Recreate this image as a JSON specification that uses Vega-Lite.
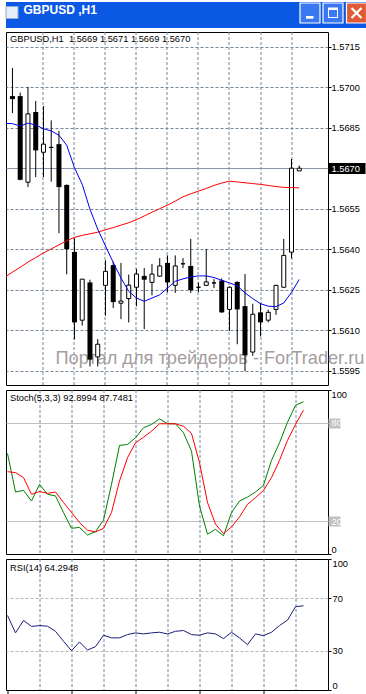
{
  "$schema": "https://vega.github.io/schema/vega-lite/v6.json",
  "padding": {"left": 4, "top": 0, "right": 0, "bottom": 0},
  "background": "white",
  "spacing": 3,
  "resolve": {"scale": {"x": "independent", "y": "independent"}},
  "config": {
    "font": "Liberation Sans",
    "view": {"stroke": "black", "strokeWidth": 1},
    "axis": {"labelFont": "Liberation Sans", "labelFontSize": 9.3, "labelColor": "black", "domain": false, "tickColor": "black", "gridColor": "#778899", "gridDash": [3, 2], "gridWidth": 1, "labelFlush": false, "labelOverlap": false, "labelBound": false},
    "title": {"font": "Liberation Sans", "fontSize": 9.3, "fontWeight": "normal", "color": "black", "anchor": "start", "frame": "group", "baseline": "alphabetic"}
  },
  "datasets": {
    "candles": [
      {"i": 0, "o": 1.56967, "h": 1.57071, "l": 1.56904, "c": 1.56956},
      {"i": 1, "o": 1.56967, "h": 1.56980, "l": 1.56655, "c": 1.56657},
      {"i": 2, "o": 1.56648, "h": 1.57001, "l": 1.56630, "c": 1.56901},
      {"i": 3, "o": 1.56908, "h": 1.56949, "l": 1.56667, "c": 1.56766},
      {"i": 4, "o": 1.56759, "h": 1.56930, "l": 1.56667, "c": 1.56789},
      {"i": 5, "o": 1.56777, "h": 1.56877, "l": 1.56650, "c": 1.56777},
      {"i": 6, "o": 1.56789, "h": 1.56838, "l": 1.56459, "c": 1.56630},
      {"i": 7, "o": 1.56638, "h": 1.56640, "l": 1.56307, "c": 1.56400},
      {"i": 8, "o": 1.56390, "h": 1.56441, "l": 1.56066, "c": 1.56129},
      {"i": 9, "o": 1.56137, "h": 1.56289, "l": 1.56117, "c": 1.56289},
      {"i": 10, "o": 1.56277, "h": 1.56287, "l": 1.55966, "c": 1.55991},
      {"i": 11, "o": 1.56001, "h": 1.56067, "l": 1.55966, "c": 1.56048},
      {"i": 12, "o": 1.56266, "h": 1.56359, "l": 1.56154, "c": 1.56318},
      {"i": 13, "o": 1.56341, "h": 1.56354, "l": 1.56182, "c": 1.56204},
      {"i": 14, "o": 1.56200, "h": 1.56349, "l": 1.56141, "c": 1.56208},
      {"i": 15, "o": 1.56217, "h": 1.56306, "l": 1.56129, "c": 1.56267},
      {"i": 16, "o": 1.56259, "h": 1.56327, "l": 1.56189, "c": 1.56308},
      {"i": 17, "o": 1.56301, "h": 1.56330, "l": 1.56104, "c": 1.56287},
      {"i": 18, "o": 1.56277, "h": 1.56345, "l": 1.56229, "c": 1.56308},
      {"i": 19, "o": 1.56300, "h": 1.56367, "l": 1.56298, "c": 1.56338},
      {"i": 20, "o": 1.56349, "h": 1.56377, "l": 1.56240, "c": 1.56277},
      {"i": 21, "o": 1.56266, "h": 1.56377, "l": 1.56238, "c": 1.56338},
      {"i": 22, "o": 1.56346, "h": 1.56367, "l": 1.56330, "c": 1.56346},
      {"i": 23, "o": 1.56338, "h": 1.56438, "l": 1.56238, "c": 1.56248},
      {"i": 24, "o": 1.56259, "h": 1.56277, "l": 1.56241, "c": 1.56259},
      {"i": 25, "o": 1.56266, "h": 1.56401, "l": 1.56264, "c": 1.56279},
      {"i": 26, "o": 1.56275, "h": 1.56289, "l": 1.56256, "c": 1.56275},
      {"i": 27, "o": 1.56284, "h": 1.56292, "l": 1.56164, "c": 1.56166},
      {"i": 28, "o": 1.56177, "h": 1.56262, "l": 1.56097, "c": 1.56259},
      {"i": 29, "o": 1.56279, "h": 1.56281, "l": 1.56048, "c": 1.56177},
      {"i": 30, "o": 1.56189, "h": 1.56308, "l": 1.55948, "c": 1.56007},
      {"i": 31, "o": 1.56019, "h": 1.56198, "l": 1.56005, "c": 1.56159},
      {"i": 32, "o": 1.56166, "h": 1.56201, "l": 1.56077, "c": 1.56129},
      {"i": 33, "o": 1.56137, "h": 1.56176, "l": 1.56129, "c": 1.56166},
      {"i": 34, "o": 1.56177, "h": 1.56268, "l": 1.56157, "c": 1.56266},
      {"i": 35, "o": 1.56259, "h": 1.56438, "l": 1.56257, "c": 1.56377},
      {"i": 36, "o": 1.56389, "h": 1.56734, "l": 1.56366, "c": 1.56700},
      {"i": 37, "o": 1.56690, "h": 1.56710, "l": 1.56690, "c": 1.56700}
    ],
    "ma": [
      {"i": -1, "fast": 1.56866, "slow": 1.56296},
      {"i": 0, "fast": 1.56865, "slow": 1.56315},
      {"i": 1, "fast": 1.56856, "slow": 1.56333},
      {"i": 2, "fast": 1.56867, "slow": 1.56352},
      {"i": 3, "fast": 1.56860, "slow": 1.56369},
      {"i": 4, "fast": 1.56846, "slow": 1.56386},
      {"i": 5, "fast": 1.56838, "slow": 1.56401},
      {"i": 6, "fast": 1.56822, "slow": 1.56416},
      {"i": 7, "fast": 1.56785, "slow": 1.56431},
      {"i": 8, "fast": 1.56702, "slow": 1.56444},
      {"i": 9, "fast": 1.56640, "slow": 1.56451},
      {"i": 10, "fast": 1.56548, "slow": 1.56457},
      {"i": 11, "fast": 1.56474, "slow": 1.56463},
      {"i": 12, "fast": 1.56412, "slow": 1.56472},
      {"i": 13, "fast": 1.56351, "slow": 1.56480},
      {"i": 14, "fast": 1.56293, "slow": 1.56489},
      {"i": 15, "fast": 1.56244, "slow": 1.56498},
      {"i": 16, "fast": 1.56219, "slow": 1.56509},
      {"i": 17, "fast": 1.56207, "slow": 1.56523},
      {"i": 18, "fast": 1.56219, "slow": 1.56537},
      {"i": 19, "fast": 1.56231, "slow": 1.56550},
      {"i": 20, "fast": 1.56256, "slow": 1.56563},
      {"i": 21, "fast": 1.56281, "slow": 1.56578},
      {"i": 22, "fast": 1.56290, "slow": 1.56594},
      {"i": 23, "fast": 1.56297, "slow": 1.56605},
      {"i": 24, "fast": 1.56301, "slow": 1.56615},
      {"i": 25, "fast": 1.56301, "slow": 1.56625},
      {"i": 26, "fast": 1.56295, "slow": 1.56636},
      {"i": 27, "fast": 1.56285, "slow": 1.56645},
      {"i": 28, "fast": 1.56275, "slow": 1.56652},
      {"i": 29, "fast": 1.56265, "slow": 1.56649},
      {"i": 30, "fast": 1.56238, "slow": 1.56646},
      {"i": 31, "fast": 1.56217, "slow": 1.56643},
      {"i": 32, "fast": 1.56198, "slow": 1.56640},
      {"i": 33, "fast": 1.56189, "slow": 1.56636},
      {"i": 34, "fast": 1.56187, "slow": 1.56632},
      {"i": 35, "fast": 1.56201, "slow": 1.56629},
      {"i": 36, "fast": 1.56240, "slow": 1.56628},
      {"i": 37, "fast": 1.56288, "slow": 1.56627}
    ],
    "stoch": [
      {"i": 0, "m": 61.3, "s": 50.2}, {"i": 1, "m": 37.8, "s": 49.6}, {"i": 2, "m": 38.8, "s": 46.6},
      {"i": 3, "m": 32.3, "s": 36.4}, {"i": 4, "m": 42.5, "s": 38.1}, {"i": 5, "m": 36.4, "s": 37.0},
      {"i": 6, "m": 35.4, "s": 37.8}, {"i": 7, "m": 25.3, "s": 31.4}, {"i": 8, "m": 15.7, "s": 25.3},
      {"i": 9, "m": 16.2, "s": 19.2}, {"i": 10, "m": 11.5, "s": 14.5}, {"i": 11, "m": 13.7, "s": 13.5},
      {"i": 12, "m": 20.6, "s": 15.6}, {"i": 13, "m": 42.5, "s": 25.3}, {"i": 14, "m": 66.2, "s": 44.5},
      {"i": 15, "m": 66.8, "s": 58.7}, {"i": 16, "m": 70.9, "s": 67.8}, {"i": 17, "m": 77.0, "s": 71.2},
      {"i": 18, "m": 79.0, "s": 74.9}, {"i": 19, "m": 82.4, "s": 79.4}, {"i": 20, "m": 79.4, "s": 79.4},
      {"i": 21, "m": 79.4, "s": 79.4}, {"i": 22, "m": 73.9, "s": 77.9}, {"i": 23, "m": 62.7, "s": 73.5},
      {"i": 24, "m": 29.3, "s": 55.7}, {"i": 25, "m": 12.1, "s": 31.4}, {"i": 26, "m": 15.0, "s": 18.2},
      {"i": 27, "m": 11.1, "s": 12.5}, {"i": 28, "m": 25.3, "s": 16.5}, {"i": 29, "m": 32.3, "s": 22.6},
      {"i": 30, "m": 34.7, "s": 30.3}, {"i": 31, "m": 37.8, "s": 34.4}, {"i": 32, "m": 41.9, "s": 38.8},
      {"i": 33, "m": 57.1, "s": 46.6}, {"i": 34, "m": 67.8, "s": 57.1}, {"i": 35, "m": 80.3, "s": 69.3},
      {"i": 36, "m": 90.7, "s": 79.0}, {"i": 37, "m": 92.9, "s": 87.7}
    ],
    "rsi": [
      {"i": 0, "r": 56.9}, {"i": 1, "r": 43.6}, {"i": 2, "r": 53.1}, {"i": 3, "r": 48.5},
      {"i": 4, "r": 49.2}, {"i": 5, "r": 48.7}, {"i": 6, "r": 44.8}, {"i": 7, "r": 37.2},
      {"i": 8, "r": 30.0}, {"i": 9, "r": 36.7}, {"i": 10, "r": 30.5}, {"i": 11, "r": 33.1},
      {"i": 12, "r": 41.8}, {"i": 13, "r": 39.8}, {"i": 14, "r": 39.8}, {"i": 15, "r": 42.3},
      {"i": 16, "r": 43.6}, {"i": 17, "r": 42.8}, {"i": 18, "r": 43.6}, {"i": 19, "r": 44.1},
      {"i": 20, "r": 42.8}, {"i": 21, "r": 44.8}, {"i": 22, "r": 45.4}, {"i": 23, "r": 42.3},
      {"i": 24, "r": 41.8}, {"i": 25, "r": 43.6}, {"i": 26, "r": 42.8}, {"i": 27, "r": 39.2},
      {"i": 28, "r": 44.1}, {"i": 29, "r": 39.8}, {"i": 30, "r": 34.6}, {"i": 31, "r": 42.8},
      {"i": 32, "r": 41.5}, {"i": 33, "r": 44.1}, {"i": 34, "r": 49.2}, {"i": 35, "r": 53.3},
      {"i": 36, "r": 63.6}, {"i": 37, "r": 64.3}
    ]
  },
  "vconcat": [
    {
      "width": 362, "height": 26,
      "view": {"fill": "#0a58e4", "stroke": null},
      "title": {"text": "GBPUSD ,H1", "offset": -16, "dx": 17.5, "color": "white", "fontSize": 12, "fontWeight": "bold"},
      "data": {"values": [{"k": 1}]},
      "layer": [
        {"mark": {"type": "point", "shape": "square", "size": 144, "filled": true, "fill": "#e8eef9", "stroke": "#8fa9d8", "strokeWidth": 1, "opacity": 1},
         "encoding": {"x": {"datum": 6, "type": "quantitative", "scale": {"domain": [0, 362], "nice": false, "zero": false}, "axis": null},
                      "y": {"datum": 10.5, "type": "quantitative", "scale": {"domain": [0, 26], "reverse": true, "nice": false, "zero": false}, "axis": null}}},
        {"mark": {"type": "point", "shape": "square", "size": 400, "filled": true, "fill": "#3a78f2", "stroke": "white", "strokeWidth": 1.2, "opacity": 1},
         "encoding": {"x": {"datum": 304, "type": "quantitative"}, "y": {"datum": 11, "type": "quantitative"}}},
        {"mark": {"type": "point", "shape": "square", "size": 400, "filled": true, "fill": "#3a78f2", "stroke": "white", "strokeWidth": 1.2, "opacity": 1},
         "encoding": {"x": {"datum": 327, "type": "quantitative"}, "y": {"datum": 11, "type": "quantitative"}}},
        {"mark": {"type": "point", "shape": "square", "size": 400, "filled": true, "fill": "#e05a36", "stroke": "white", "strokeWidth": 1.2, "opacity": 1},
         "encoding": {"x": {"datum": 350.5, "type": "quantitative"}, "y": {"datum": 11, "type": "quantitative"}}},
        {"mark": {"type": "point", "shape": "M-0.4,0.3L0.35,0.3L0.35,0.57L-0.4,0.57Z", "size": 400, "filled": true, "fill": "white", "strokeWidth": 0, "opacity": 1},
         "encoding": {"x": {"datum": 304, "type": "quantitative"}, "y": {"datum": 11, "type": "quantitative"}}},
        {"mark": {"type": "point", "shape": "M-0.5,-0.55L0.5,-0.55L0.5,0.5L-0.5,0.5Z M-0.4,-0.3L-0.4,0.4L0.4,0.4L0.4,-0.3Z", "size": 400, "filled": true, "fill": "white", "strokeWidth": 0, "opacity": 1},
         "encoding": {"x": {"datum": 327, "type": "quantitative"}, "y": {"datum": 11, "type": "quantitative"}}},
        {"mark": {"type": "point", "shape": "M-0.5,-0.5L0.5,0.5M0.5,-0.5L-0.5,0.5", "size": 400, "filled": false, "stroke": "white", "strokeWidth": 2.2, "opacity": 1},
         "encoding": {"x": {"datum": 350.5, "type": "quantitative"}, "y": {"datum": 11, "type": "quantitative"}}}
      ]
    },
    {
      "width": 322, "height": 353,
      "title": {"text": "GBPUSD,H1\u00a0 1.5669 1.5671 1.5669 1.5670", "offset": -12, "dx": 4},
      "layer": [
        {
          "data": {"values": [{"t": "Портал для трейдеров - ForTrader.ru"}]},
          "mark": {"type": "text", "align": "left", "baseline": "alphabetic", "fontSize": 18.2, "color": "#a59d9d", "font": "Liberation Sans", "clip": false},
          "encoding": {
            "text": {"field": "t"},
            "x": {"datum": 5.56, "type": "quantitative", "title": null,
                  "scale": {"domain": [-0.1875, 40.0625], "nice": false, "zero": false},
                  "axis": {"values": [4, 8, 12, 16, 20, 24, 28, 32, 36], "labels": false, "ticks": false, "grid": true, "translate": 0, "title": null}},
            "y": {"datum": 1.55974, "type": "quantitative", "title": null,
                  "scale": {"domain": [1.55897, 1.572044], "nice": false, "zero": false},
                  "axis": {"orient": "right", "title": null, "format": ".4f",
                           "values": [1.5595, 1.561, 1.5625, 1.564, 1.5655, 1.567, 1.5685, 1.57, 1.5715],
                           "grid": true, "ticks": true, "tickSize": 37, "labelPadding": -34,
                           "tickWidth": {"condition": {"test": "datum.value == 1.567", "value": 11}, "value": 1},
                           "tickDash": {"condition": {"test": "datum.value == 1.567", "value": []}, "value": [3, 40]},
                           "labelColor": {"condition": {"test": "datum.value == 1.567", "value": "white"}, "value": "black"},
                           "gridDash": {"condition": {"test": "datum.value == 1.567", "value": []}, "value": [3, 2]},
                           "gridColor": {"condition": {"test": "datum.value == 1.567", "value": "#8a96a3"}, "value": "#778899"}}}
          }
        },
        {
          "data": {"name": "candles"},
          "mark": {"type": "rule", "color": "black", "strokeWidth": 1, "clip": true},
          "encoding": {
            "x": {"field": "i", "type": "quantitative", "title": null},
            "y": {"field": "l", "type": "quantitative", "title": null},
            "y2": {"field": "h"}
          }
        },
        {
          "data": {"name": "candles"},
          "transform": [{"filter": "datum.c < datum.o"}],
          "mark": {"type": "bar", "orient": "vertical", "width": 5, "color": "black", "clip": true},
          "encoding": {
            "x": {"field": "i", "type": "quantitative", "title": null},
            "y": {"field": "o", "type": "quantitative", "title": null},
            "y2": {"field": "c"}
          }
        },
        {
          "data": {"name": "candles"},
          "transform": [{"filter": "datum.c >= datum.o"}],
          "mark": {"type": "bar", "orient": "vertical", "width": 4, "fill": "white", "stroke": "black", "strokeWidth": 1, "clip": true},
          "encoding": {
            "x": {"field": "i", "type": "quantitative", "title": null},
            "y": {"field": "o", "type": "quantitative", "title": null},
            "y2": {"field": "c"}
          }
        },
        {
          "data": {"name": "ma"},
          "mark": {"type": "line", "color": "#ff0000", "strokeWidth": 1, "clip": true},
          "encoding": {
            "x": {"field": "i", "type": "quantitative", "title": null},
            "y": {"field": "slow", "type": "quantitative", "title": null}
          }
        },
        {
          "data": {"name": "ma"},
          "mark": {"type": "line", "color": "#0000ee", "strokeWidth": 1, "clip": true},
          "encoding": {
            "x": {"field": "i", "type": "quantitative", "title": null},
            "y": {"field": "fast", "type": "quantitative", "title": null}
          }
        }
      ]
    },
    {
      "width": 322, "height": 164,
      "title": {"text": "Stoch(5,3,3) 92.8994 87.7481", "offset": -13.5, "dx": 4},
      "data": {"name": "stoch"},
      "layer": [
        {
          "mark": {"type": "line", "color": "#008000", "strokeWidth": 1, "clip": true},
          "encoding": {
            "x": {"field": "i", "type": "quantitative", "title": null,
                  "scale": {"domain": [-0.1875, 40.0625], "nice": false, "zero": false},
                  "axis": {"values": [4, 8, 12, 16, 20, 24, 28, 32, 36], "labels": false, "ticks": false, "grid": true, "translate": 0, "title": null}},
            "y": {"field": "m", "type": "quantitative", "title": null,
                  "scale": {"domain": [0, 100], "nice": false, "zero": false},
                  "axis": {"orient": "right", "title": null, "values": [0, 20, 80, 100], "labelFlush": true,
                           "grid": true, "gridDash": [], "gridColor": "#c0c0c0",
                           "gridOpacity": {"condition": {"test": "datum.value == 20 || datum.value == 80", "value": 1}, "value": 0},
                           "ticks": true, "tickSize": 12, "labelPadding": -9,
                           "tickWidth": {"condition": {"test": "datum.value == 20 || datum.value == 80", "value": 10}, "value": 1},
                           "tickColor": {"condition": {"test": "datum.value == 20 || datum.value == 80", "value": "#c0c0c0"}, "value": "black"},
                           "tickDash": {"condition": {"test": "datum.value == 20 || datum.value == 80", "value": []}, "value": [3, 30]},
                           "labelColor": {"condition": {"test": "datum.value == 20 || datum.value == 80", "value": "white"}, "value": "black"}}}
          }
        },
        {
          "mark": {"type": "line", "color": "#ff0000", "strokeWidth": 1, "clip": true},
          "encoding": {
            "x": {"field": "i", "type": "quantitative", "title": null},
            "y": {"field": "s", "type": "quantitative", "title": null}
          }
        }
      ]
    },
    {
      "width": 322, "height": 131,
      "title": {"text": "RSI(14) 64.2948", "offset": -14.5, "dx": 4},
      "data": {"name": "rsi"},
      "mark": {"type": "line", "color": "#1c1c7c", "strokeWidth": 1, "clip": true},
      "encoding": {
        "x": {"field": "i", "type": "quantitative", "title": null,
              "scale": {"domain": [-0.1875, 40.0625], "nice": false, "zero": false},
              "axis": {"values": [0, 4, 8, 12, 16, 20, 24, 28, 32, 36], "title": null, "translate": 0,
                       "grid": true,
                       "gridOpacity": {"condition": {"test": "datum.value == 0", "value": 0}, "value": 1},
                       "ticks": true, "tickSize": 4,
                       "tickOpacity": {"condition": {"test": "datum.value % 8 == 0", "value": 1}, "value": 0},
                       "labelAlign": "left", "labelBaseline": "top", "labelPadding": 2,
                       "labelExpr": "datum.value == 0 ? '23 Dec 2011' : datum.value == 8 ? '23 Dec 18:00' : datum.value == 16 ? '26 Dec 13:00' : datum.value == 24 ? '26 Dec 21:00' : datum.value == 32 ? '27 Dec 05:00' : ''"}},
        "y": {"field": "r", "type": "quantitative", "title": null,
              "scale": {"domain": [0, 100], "nice": false, "zero": false},
              "axis": {"orient": "right", "title": null, "values": [0, 30, 70, 100], "labelFlush": true,
                       "grid": true, "gridDash": [3, 2], "gridColor": "#b8b8b8",
                       "gridOpacity": {"condition": {"test": "datum.value == 30 || datum.value == 70", "value": 1}, "value": 0},
                       "ticks": true, "tickSize": 3, "labelPadding": 1}}
      }
    }
  ]
}
